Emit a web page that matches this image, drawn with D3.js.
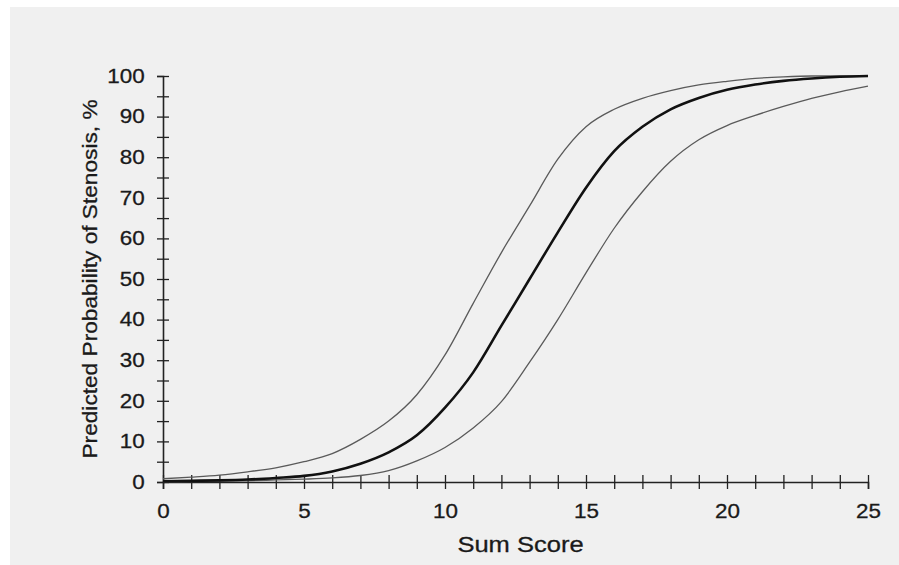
<!DOCTYPE html>
<html>
<head>
<meta charset="utf-8">
<script src="https://cdn.jsdelivr.net/npm/d3@7"></script>
<style>
  body { margin: 0; background: #fff; }
  text { font-family: "Liberation Sans", Arial, sans-serif; fill: #1a1a1a; stroke: #1a1a1a; stroke-width: 0.3; }
</style>
</head>
<body>
<div id="chart"></div>
<script>
// Sum score (x) and predicted probability with its upper/lower bounds, %
const sumScore = [0, 1, 2, 3, 4, 5, 6, 7, 8, 9, 10, 11, 12, 13, 14, 15, 16, 17, 18, 19, 20, 21, 22, 23, 24, 25];
const predicted = [0.2, 0.3, 0.4, 0.6, 1.0, 1.5, 2.6, 4.5, 7.3, 11.5, 18.3, 27, 38.5, 50, 61.5, 72.5, 81.5, 87.5, 91.8, 94.6, 96.6, 97.9, 98.8, 99.4, 99.8, 100];
const upper = [0.8, 1.2, 1.7, 2.5, 3.5, 5.0, 7.0, 10.5, 15, 21.5, 31.3, 44, 56.5, 68, 79.5, 87.5, 91.8, 94.5, 96.4, 97.8, 98.7, 99.4, 99.8, 100, 100, 100];
const lower = [0.1, 0.15, 0.2, 0.3, 0.5, 0.7, 1.0, 1.6, 2.8, 5.2, 8.5, 13.3, 19.8, 29.5, 40, 51.5, 62.5, 71.5, 79, 84.3, 87.8, 90.3, 92.5, 94.5, 96.1, 97.5];

const xTickLabels = [0, 5, 10, 15, 20, 25];
const yTickLabels = [0, 10, 20, 30, 40, 50, 60, 70, 80, 90, 100];

const width = 899;
const height = 565;
const margin = { top: 76, right: 31, bottom: 83, left: 163 };
const stretch = "scale(1.15,1)";  // the scanned lettering is a bit wide

const svg = d3.select("#chart")
    .append("svg")
    .attr("width", width)
    .attr("height", height);

// scanned page background
svg.append("rect")
    .attr("x", 10).attr("y", 7)
    .attr("width", width - 10).attr("height", height - 7)
    .attr("fill", "#f0f0f0");

const x = d3.scaleLinear().domain([0, 25]).range([margin.left, width - margin.right]);
const y = d3.scaleLinear().domain([0, 100]).range([height - margin.bottom, margin.top]);

// x axis: a tick at every score, crossing the line
const xAxis = svg.append("g")
    .attr("transform", `translate(0,${y(0)})`)
    .call(d3.axisBottom(x).tickValues(d3.range(0, 26)).tickSize(7).tickFormat(""));
xAxis.selectAll(".tick line").attr("y1", -7).attr("stroke", "#222").attr("stroke-width", 1.3);
xAxis.select(".domain").attr("stroke", "#222").attr("stroke-width", 1.6);

svg.append("g")
    .attr("transform", `translate(0,${y(0)})`)
    .call(d3.axisBottom(x).tickValues(xTickLabels).tickSize(0).tickPadding(22))
    .call(g => g.select(".domain").remove())
    .selectAll("text")
    .attr("font-size", 19.5)
    .attr("transform", stretch);

// y axis: ticks every 5, labels every 10
const yAxis = svg.append("g")
    .attr("transform", `translate(${x(0)},0)`)
    .call(d3.axisLeft(y).tickValues(d3.range(0, 101, 5)).tickSize(6).tickFormat(""));
yAxis.selectAll(".tick line").attr("x1", 6).attr("stroke", "#222").attr("stroke-width", 1.3);
yAxis.select(".domain").attr("stroke", "#222").attr("stroke-width", 1.6);

svg.append("g")
    .attr("transform", `translate(${x(0)},0)`)
    .call(d3.axisLeft(y).tickValues(yTickLabels).tickSize(0).tickPadding(16))
    .call(g => g.select(".domain").remove())
    .selectAll("text")
    .attr("font-size", 19.5)
    .attr("transform", stretch);

// curves
const line = series => d3.line()
    .x((d, i) => x(sumScore[i]))
    .y(d => y(d))
    .curve(d3.curveMonotoneX)(series);

[upper, lower].forEach(s => {
    svg.append("path")
        .attr("d", line(s))
        .attr("fill", "none")
        .attr("stroke", "#5a5a5a")
        .attr("stroke-width", 1.3);
});

svg.append("path")
    .attr("d", line(predicted))
    .attr("fill", "none")
    .attr("stroke", "#111")
    .attr("stroke-width", 2.6);

// axis titles
svg.append("text")
    .attr("transform", `translate(${(x(0) + x(25)) / 2 + 5},551.5) scale(1.16,1)`)
    .attr("text-anchor", "middle")
    .attr("font-size", 22)
    .text("Sum Score");

svg.append("text")
    .attr("transform", `translate(97,${(y(0) + y(100)) / 2}) rotate(-90) scale(1.08,1)`)
    .attr("text-anchor", "middle")
    .attr("font-size", 21)
    .text("Predicted Probability of Stenosis, %");
</script>
</body>
</html>
